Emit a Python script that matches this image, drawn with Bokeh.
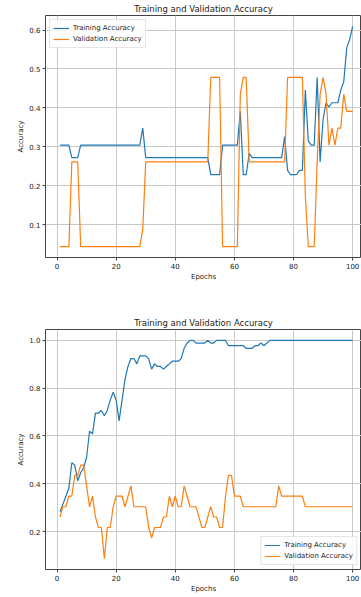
from bokeh.plotting import figure
from bokeh.layouts import column
from bokeh.models import Range1d, Legend, LegendItem, FixedTicker, PrintfTickFormatter
from bokeh.embed import file_html
from bokeh.resources import INLINE

epochs = list(range(1, 101))

# Run 1 (top chart)
train_acc_1 = [
    0.304, 0.304, 0.304, 0.304, 0.272, 0.272, 0.272, 0.304, 0.304, 0.304,
    0.304, 0.304, 0.304, 0.304, 0.304, 0.304, 0.304, 0.304, 0.304, 0.304,
    0.304, 0.304, 0.304, 0.304, 0.304, 0.304, 0.304, 0.304, 0.348, 0.272,
    0.272, 0.272, 0.272, 0.272, 0.272, 0.272, 0.272, 0.272, 0.272, 0.272,
    0.272, 0.272, 0.272, 0.272, 0.272, 0.272, 0.272, 0.272, 0.272, 0.272,
    0.272, 0.228, 0.228, 0.228, 0.228, 0.304, 0.304, 0.304, 0.304, 0.304,
    0.304, 0.391, 0.228, 0.228, 0.283, 0.272, 0.272, 0.272, 0.272, 0.272,
    0.272, 0.272, 0.272, 0.272, 0.272, 0.272, 0.326, 0.239, 0.228, 0.228,
    0.228, 0.239, 0.239, 0.446, 0.315, 0.304, 0.304, 0.478, 0.261, 0.370,
    0.413, 0.402, 0.413, 0.413, 0.413, 0.446, 0.467, 0.554, 0.576, 0.609,
]
val_acc_1 = [
    0.043, 0.043, 0.043, 0.043, 0.261, 0.261, 0.261, 0.043, 0.043, 0.043,
    0.043, 0.043, 0.043, 0.043, 0.043, 0.043, 0.043, 0.043, 0.043, 0.043,
    0.043, 0.043, 0.043, 0.043, 0.043, 0.043, 0.043, 0.043, 0.087, 0.261,
    0.261, 0.261, 0.261, 0.261, 0.261, 0.261, 0.261, 0.261, 0.261, 0.261,
    0.261, 0.261, 0.261, 0.261, 0.261, 0.261, 0.261, 0.261, 0.261, 0.261,
    0.261, 0.478, 0.478, 0.478, 0.478, 0.043, 0.043, 0.043, 0.043, 0.043,
    0.043, 0.435, 0.478, 0.478, 0.261, 0.261, 0.261, 0.261, 0.261, 0.261,
    0.261, 0.261, 0.261, 0.261, 0.261, 0.261, 0.261, 0.478, 0.478, 0.478,
    0.478, 0.478, 0.478, 0.174, 0.043, 0.043, 0.043, 0.261, 0.435, 0.478,
    0.435, 0.304, 0.348, 0.304, 0.348, 0.348, 0.435, 0.391, 0.391, 0.391,
]

# Run 2 (bottom chart)
train_acc_2 = [
    0.283, 0.315, 0.348, 0.381, 0.488, 0.478, 0.413, 0.446, 0.467, 0.511,
    0.620, 0.609, 0.696, 0.696, 0.707, 0.685, 0.707, 0.750, 0.783, 0.750,
    0.663, 0.750, 0.837, 0.891, 0.924, 0.924, 0.902, 0.935, 0.935, 0.935,
    0.924, 0.880, 0.902, 0.891, 0.891, 0.880, 0.891, 0.902, 0.913, 0.913,
    0.913, 0.924, 0.967, 0.989, 1.000, 1.000, 0.989, 0.989, 0.989, 0.989,
    1.000, 0.989, 0.989, 1.000, 1.000, 1.000, 1.000, 0.978, 0.978, 0.978,
    0.978, 0.978, 0.978, 0.967, 0.967, 0.967, 0.978, 0.978, 0.989, 0.978,
    0.989, 1.000, 1.000, 1.000, 1.000, 1.000, 1.000, 1.000, 1.000, 1.000,
    1.000, 1.000, 1.000, 1.000, 1.000, 1.000, 1.000, 1.000, 1.000, 1.000,
    1.000, 1.000, 1.000, 1.000, 1.000, 1.000, 1.000, 1.000, 1.000, 1.000,
]
val_acc_2 = [
    0.261, 0.304, 0.304, 0.348, 0.348, 0.435, 0.435, 0.478, 0.478, 0.391,
    0.304, 0.348, 0.261, 0.217, 0.217, 0.087, 0.217, 0.217, 0.304, 0.348,
    0.348, 0.348, 0.304, 0.348, 0.391, 0.304, 0.304, 0.304, 0.304, 0.304,
    0.217, 0.174, 0.217, 0.217, 0.217, 0.261, 0.261, 0.348, 0.304, 0.348,
    0.304, 0.304, 0.391, 0.348, 0.304, 0.304, 0.304, 0.261, 0.217, 0.217,
    0.261, 0.304, 0.261, 0.261, 0.217, 0.217, 0.348, 0.435, 0.435, 0.348,
    0.348, 0.348, 0.304, 0.304, 0.304, 0.304, 0.304, 0.304, 0.304, 0.304,
    0.304, 0.304, 0.304, 0.304, 0.391, 0.348, 0.348, 0.348, 0.348, 0.348,
    0.348, 0.348, 0.348, 0.304, 0.304, 0.304, 0.304, 0.304, 0.304, 0.304,
    0.304, 0.304, 0.304, 0.304, 0.304, 0.304, 0.304, 0.304, 0.304, 0.304,
]

x_ticks = [0, 20, 40, 60, 80, 100]
y_ticks_1 = [0.1, 0.2, 0.3, 0.4, 0.5, 0.6]
y_ticks_2 = [0.2, 0.4, 0.6, 0.8, 1.0]

TITLE = "Training and Validation Accuracy"
FONT = "DejaVu Sans"
BLUE = "#1f77b4"
ORANGE = "#ff7f0e"


def make_fig(height, y_range, y_ticks, train, val, legend_loc, mb_bottom):
    p = figure(width=361, height=height,
               x_range=Range1d(-3.9, 103.0), y_range=Range1d(*y_range),
               output_backend="svg", toolbar_location=None,
               min_border_left=45, min_border_right=0,
               min_border_top=0, min_border_bottom=mb_bottom)
    p.title.text = TITLE
    p.title.align = "center"
    p.title.text_font = FONT
    p.title.text_font_size = "8.5px"
    p.title.text_font_style = "normal"
    p.title.text_color = "#222222"
    p.title.standoff = 3
    p.title.offset = 0

    p.outline_line_color = "#444444"
    p.outline_line_width = 1
    p.background_fill_color = "white"
    p.border_fill_color = "white"

    p.xaxis.ticker = FixedTicker(ticks=x_ticks)
    p.yaxis.ticker = FixedTicker(ticks=y_ticks)
    p.yaxis.formatter = PrintfTickFormatter(format="%.1f")
    p.xaxis.axis_label = "Epochs"
    p.yaxis.axis_label = "Accuracy"
    for ax in (p.xaxis, p.yaxis):
        ax.axis_label_text_font = FONT
        ax.axis_label_text_font_size = "7px"
        ax.axis_label_text_font_style = "normal"
        ax.axis_label_text_color = "#222222"
        ax.axis_label_standoff = 1
        ax.major_label_text_font = FONT
        ax.major_label_text_font_size = "7px"
        ax.major_label_text_color = "#222222"
        ax.major_label_standoff = 2
        ax.major_tick_in = 0
        ax.major_tick_out = 3
        ax.major_tick_line_color = "#444444"
        ax.minor_tick_line_color = None
        ax.axis_line_color = None

    p.grid.grid_line_color = "#c8c8c8"
    p.grid.grid_line_width = 1

    r1 = p.line(epochs, train, line_color=BLUE, line_width=1.2)
    r2 = p.line(epochs, val, line_color=ORANGE, line_width=1.2)

    legend = Legend(items=[LegendItem(label="Training Accuracy", renderers=[r1]),
                           LegendItem(label="Validation Accuracy", renderers=[r2])],
                    location=legend_loc)
    legend.label_text_font = FONT
    legend.label_text_font_size = "7px"
    legend.label_text_color = "#222222"
    legend.glyph_width = 16
    legend.glyph_height = 10
    legend.label_height = 10
    legend.label_standoff = 4
    legend.padding = 3
    legend.spacing = 1
    legend.margin = 4
    legend.border_line_color = "#cccccc"
    legend.background_fill_alpha = 0.85
    p.add_layout(legend)
    return p


p1 = make_fig(314, (0.0152, 0.6373), y_ticks_1, train_acc_1, val_acc_1,
              "top_left", 57)
p2 = make_fig(283, (0.0413, 1.0457), y_ticks_2, train_acc_2, val_acc_2,
              "bottom_right", 28)

layout = column(p1, p2, spacing=0)

with open("out.html", "w") as f:
    f.write(file_html(layout, INLINE))
